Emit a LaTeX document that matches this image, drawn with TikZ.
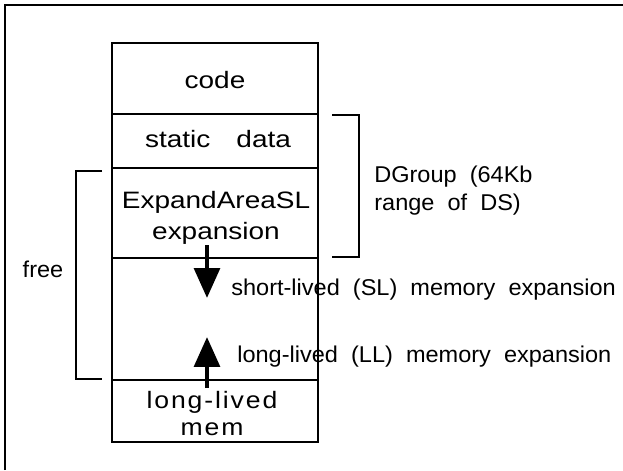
\documentclass[tikz,border=0pt]{standalone}
\usepackage{fontspec}
\setmainfont{Liberation Sans}
\newfontfamily\boxfont[FakeStretch=1.18]{Liberation Sans}
\newfontfamily\spacedfont[FakeStretch=1.12,LetterSpace=8]{Liberation Sans}
\newfontfamily\sidefont[FakeStretch=1.03,WordSpace=2]{Liberation Sans}
\usetikzlibrary{arrows.meta}

\begin{document}
\begin{tikzpicture}[
    memline/.style={line width=1.2pt},
    bracket/.style={line width=1.1pt},
    boxtext/.style={font=\boxfont\fontsize{13.5}{17.6}\selectfont, align=center, inner sep=0pt},
    sidetext/.style={font=\sidefont\fontsize{13}{15.9}\selectfont, align=left, inner sep=0pt},
    growarrow/.style={line width=2.5pt, -{Triangle[length=17pt, width=14.5pt]}}
]
    \useasboundingbox (0,0) rectangle (12.46,9.4);

    % Page frame
    \draw[line width=1.6pt] (0.1,0) -- (0.1,9.3) -- (12.46,9.3);

    % Memory column
    \draw[memline] (2.24,0.56) rectangle (6.36,8.54);
    \foreach \y in {7.12,6.04,4.24,1.8}
        \draw[memline] (2.24,\y) -- (6.36,\y);

    \node[boxtext, anchor=base] (code) at (4.3,7.62) {code};
    \node[boxtext, anchor=base] (static) at (4.36,6.44) {static\hspace{1.1em}data};
    \node[boxtext, anchor=north] (expandsl) at (4.32,5.58) {ExpandAreaSL\\expansion};
    \node[boxtext, anchor=north, font=\spacedfont\fontsize{13.5}{15.3}\selectfont] (longmem) at (4.24,1.58) {long-lived\\mem};

    % DGroup bracket
    \draw[bracket] (6.64,7.1) -- (7.18,7.1) -- (7.18,4.26) -- (6.64,4.26);
    \node[sidetext, anchor=north west] (dgroup) at (7.48,6.08) {DGroup (64Kb\\range of DS)};

    % Free bracket
    \draw[bracket] (2.04,5.98) -- (1.52,5.98) -- (1.52,1.82) -- (2.04,1.82);
    \node[sidetext, anchor=base] (free) at (0.86,3.86) {free};

    % Expansion arrows
    \coordinate (slstart) at (4.14,4.5);
    \coordinate (slend) at (4.14,3.44);
    \draw[growarrow] (slstart) -- (slend);
    \node[sidetext, anchor=base west] (sllabel) at (4.62,3.5) {short-lived (SL) memory expansion};

    \coordinate (llstart) at (4.14,1.64);
    \coordinate (llend) at (4.14,2.66);
    \draw[growarrow] (llstart) -- (llend);
    \node[sidetext, anchor=base west] (lllabel) at (4.74,2.16) {long-lived (LL) memory expansion};
\end{tikzpicture}
\end{document}
